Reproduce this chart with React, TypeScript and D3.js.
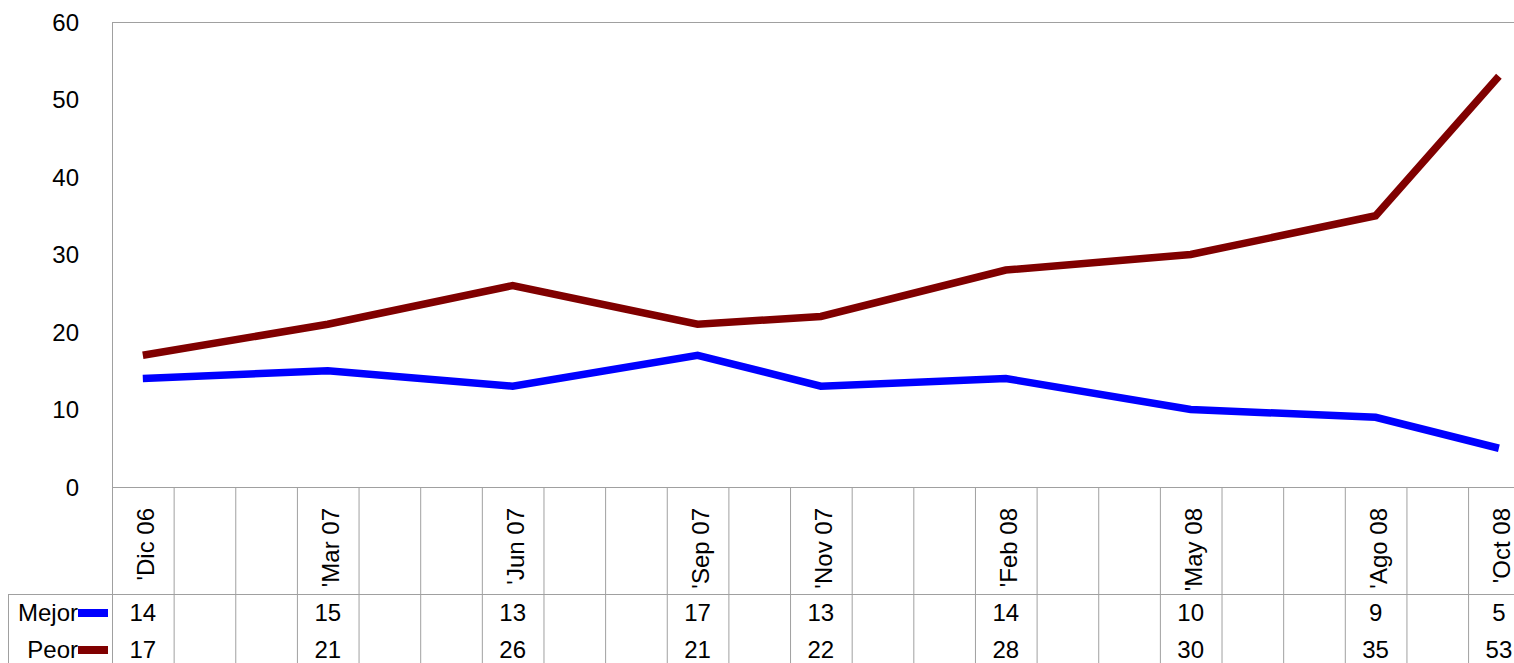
import React from "react";
import * as d3 from "d3";

// every month from Dic 06 to Oct 08; only some have data
const months = [
  "'Dic 06", "'Ene 07", "'Feb 07", "'Mar 07", "'Abr 07", "'May 07", "'Jun 07", "'Jul 07",
  "'Ago 07", "'Sep 07", "'Oct 07", "'Nov 07", "'Dic 07", "'Ene 08", "'Feb 08", "'Mar 08",
  "'Abr 08", "'May 08", "'Jun 08", "'Jul 08", "'Ago 08", "'Sep 08", "'Oct 08",
];
const surveyDates = ["'Dic 06", "'Mar 07", "'Jun 07", "'Sep 07", "'Nov 07", "'Feb 08", "'May 08", "'Ago 08", "'Oct 08"];
const mejor = [14, 15, 13, 17, 13, 14, 10, 9, 5];
const peor = [17, 21, 26, 21, 22, 28, 30, 35, 53];
const yTicks = [0, 10, 20, 30, 40, 50, 60];

const series = [
  { name: "Mejor", values: mejor, color: "#0000ff" },
  { name: "Peor", values: peor, color: "#800000" },
];

const font = "Arial, 'Liberation Sans', sans-serif";
const gridColor = "#a0a0a0";

const App = () => {
  const left = 112;
  const top = 22;
  const bottom = 487;
  const band = 61.64;
  const labelBottom = 594;
  const rowH = 37;

  const x = d3.scaleBand().domain(months).range([left, left + band * months.length]).padding(0);
  const y = d3.scaleLinear().domain([0, 60]).range([bottom, top]);
  const cx = (m) => (x(m) as number) + x.bandwidth() / 2;
  const right = left + band * months.length;

  const line = d3
    .line<number>()
    .x((d, i) => cx(surveyDates[i]))
    .y((d) => y(d));

  return (
    <svg width={1514} height={663} style={{ position: "absolute", left: 0, top: 0 }} fontFamily={font}>
      <rect x={0} y={0} width={1514} height={663} fill="white" />
      {/* plot frame */}
      <rect x={left + 0.5} y={top + 0.5} width={right - left} height={bottom - top} fill="none" stroke={gridColor} strokeWidth={1} />

      {/* y axis labels */}
      {yTicks.map((t) => (
        <text key={t} x={79} y={y(t)} dy="0.36em" textAnchor="end" fontSize={24} fill="#000">
          {t}
        </text>
      ))}

      {/* data table grid */}
      <line x1={left} x2={right} y1={bottom + 0.5} y2={bottom + 0.5} stroke={gridColor} />
      <line x1={8} x2={right} y1={labelBottom + 0.5} y2={labelBottom + 0.5} stroke={gridColor} />
      <line x1={8.5} x2={8.5} y1={labelBottom} y2={663} stroke={gridColor} />
      {months.map((m) => (
        <line key={m} x1={(x(m) as number) + 0.5} x2={(x(m) as number) + 0.5} y1={bottom} y2={663} stroke={gridColor} />
      ))}

      {/* category labels */}
      {surveyDates.map((m) => (
        <text
          key={m}
          transform={`translate(${cx(m) + 3},${bottom + 21}) rotate(-90)`}
          dy="0.35em"
          textAnchor="end"
          fontSize={24}
          fill="#000"
        >
          {m}
        </text>
      ))}

      {/* lines */}
      {series.map((s) => (
        <path key={s.name} d={line(s.values) || ""} fill="none" stroke={s.color} strokeWidth={7.5} strokeLinejoin="miter" strokeLinecap="butt" />
      ))}

      {/* table rows */}
      {series.map((s, r) => {
        const baseY = labelBottom + 27 + r * rowH;
        return (
          <g key={s.name}>
            <text x={78} y={baseY} textAnchor="end" fontSize={24} fill="#000">
              {s.name}
            </text>
            <rect x={78} y={baseY - 12} width={30} height={8} fill={s.color} />
            {s.values.map((v, i) => (
              <text key={i} x={cx(surveyDates[i])} y={baseY} textAnchor="middle" fontSize={24} fill="#000">
                {v}
              </text>
            ))}
          </g>
        );
      })}
    </svg>
  );
};

export default App;
